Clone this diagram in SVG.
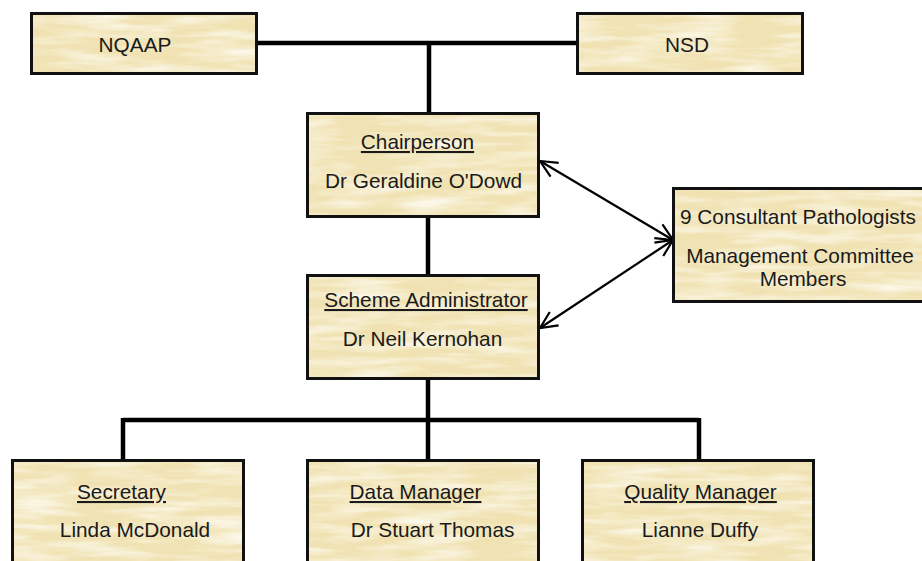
<svg xmlns="http://www.w3.org/2000/svg" width="922" height="561" viewBox="0 0 922 561">
<style>
.box{fill:url(#parch);stroke:#111;stroke-width:3}
.t{font-family:"Liberation Sans",Arial,sans-serif;font-size:20.8px;fill:#1a1a1a}
.c{text-anchor:middle}
.u{text-decoration:underline}
.conn{stroke:#000;stroke-width:4.5;fill:none}
.arr{stroke:#000;stroke-width:2.2;fill:none}
</style>
<defs>
<filter id="streak" x="0" y="0" width="100%" height="100%">
<feTurbulence type="fractalNoise" baseFrequency="0.015 0.12" numOctaves="3" seed="4" result="n"/>
<feColorMatrix in="n" type="matrix" values="0 0 0 0 1  0 0 0 0 0.99  0 0 0 0 0.94  0 0 0 -1.6 1.0" result="w"/>
<feComposite in="w" in2="SourceGraphic" operator="in"/>
</filter>
<pattern id="parch" patternUnits="userSpaceOnUse" width="940" height="580">
<rect width="940" height="580" fill="#f0e2b2"/>
<rect width="940" height="580" fill="#fff" filter="url(#streak)"/>
</pattern>
<marker id="ah" viewBox="0 0 20 20" refX="19" refY="10" markerWidth="20" markerHeight="20" markerUnits="userSpaceOnUse" orient="auto-start-reverse">
<path d="M2,2 L19,10 L2,18" fill="none" stroke="#000" stroke-width="2.2"/>
</marker>
</defs>
<g id="connectors">
<path class="conn" d="M257,43 H577 M429,43 V113 M428,217 V275 M428,379 V420 M123,420 H699 M123,418 V460 M428,420 V460 M699,418 V460"/>
<line class="arr" x1="540" y1="161" x2="673" y2="240" marker-start="url(#ah)" marker-end="url(#ah)"/>
<line class="arr" x1="540" y1="328" x2="673" y2="240" marker-start="url(#ah)" marker-end="url(#ah)"/>
</g>
<g id="nqaap">
<rect class="box" x="31.5" y="13.5" width="225" height="60"/>
<text class="t c" x="135" y="52">NQAAP</text>
</g>
<g id="nsd">
<rect class="box" x="577.5" y="13.5" width="225" height="60"/>
<text class="t c" x="687" y="52">NSD</text>
</g>
<g id="chairperson">
<rect class="box" x="307.5" y="113.5" width="231" height="103"/>
<text class="t c u" x="417.5" y="149">Chairperson</text>
<text class="t c" x="423.5" y="188">Dr Geraldine O'Dowd</text>
</g>
<g id="scheme-administrator">
<rect class="box" x="307.5" y="275.5" width="231" height="103"/>
<text class="t c u" x="426" y="307">Scheme Administrator</text>
<text class="t c" x="422.5" y="346">Dr Neil Kernohan</text>
</g>
<g id="consultants">
<rect class="box" x="673.5" y="188.5" width="252" height="113"/>
<text class="t" x="680" y="224">9 Consultant Pathologists</text>
<text class="t c" x="800" y="263">Management Committee</text>
<text class="t c" x="803" y="286">Members</text>
</g>
<g id="secretary">
<rect class="box" x="12.5" y="460.5" width="231" height="110"/>
<text class="t c u" x="121.5" y="499">Secretary</text>
<text class="t c" x="135" y="537">Linda McDonald</text>
</g>
<g id="data-manager">
<rect class="box" x="307.5" y="460.5" width="231" height="110"/>
<text class="t c u" x="415.5" y="499">Data Manager</text>
<text class="t c" x="432.5" y="537">Dr Stuart Thomas</text>
</g>
<g id="quality-manager">
<rect class="box" x="582.5" y="460.5" width="231" height="110"/>
<text class="t c u" x="700.5" y="499">Quality Manager</text>
<text class="t c" x="700" y="537">Lianne Duffy</text>
</g>
</svg>
